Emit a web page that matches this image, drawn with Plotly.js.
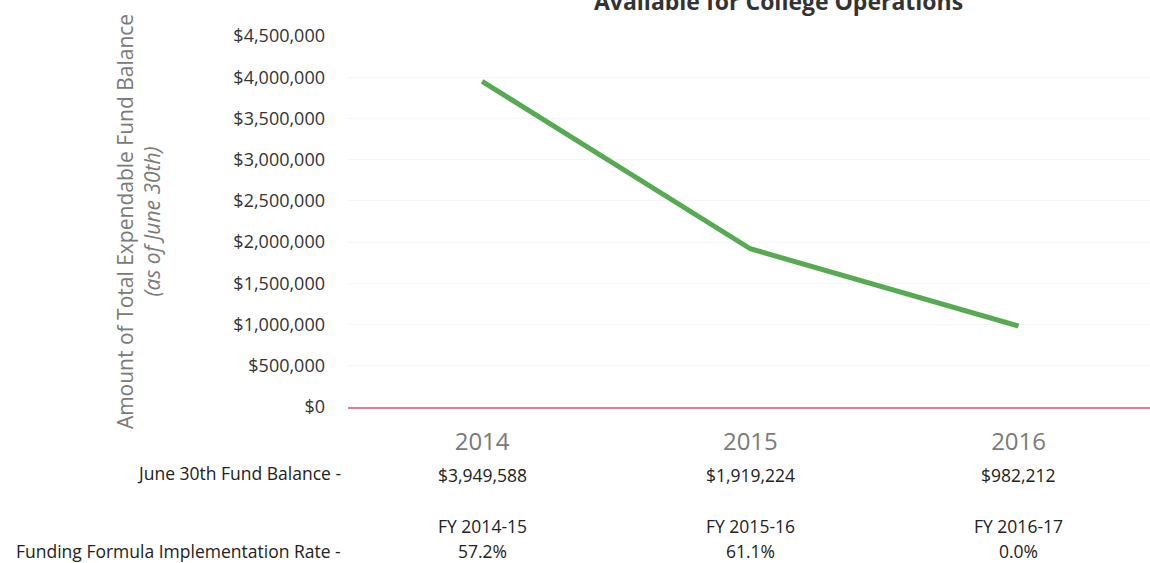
<!DOCTYPE html>
<html>
<head>
<meta charset="utf-8">
<script src="https://cdn.plot.ly/plotly-3.0.1.min.js"></script>
<style>html,body{margin:0;padding:0;background:#fff;}#chart{width:1150px;height:563px;}</style>
</head>
<body>
<div id="chart"></div>
<script>
const years = ["2014", "2015", "2016"];
const balances = [3949588, 1919224, 982212];
const fiscalYears = ["FY 2014-15", "FY 2015-16", "FY 2016-17"];
const implRates = [57.2, 61.1, 0.0];
const yTicks = [0, 500000, 1000000, 1500000, 2000000, 2500000, 3000000, 3500000, 4000000, 4500000];

const fmtMoney = v => "$" + v.toLocaleString("en-US");
const FONT = "Open Sans, Noto Sans, sans-serif";

const trace = {
  x: years,
  y: balances,
  type: "scatter",
  mode: "lines",
  line: {color: "#56aa52", width: 5},
  hoverinfo: "skip"
};

const annotations = [];
annotations.push({
  text: "<b>Available for College Operations</b>",
  xref: "paper", yref: "paper", x: 0.537, y: 1.095,
  xanchor: "center", yanchor: "middle", showarrow: false,
  font: {family: FONT, size: 23, color: "#333"}
});
annotations.push({
  text: "June 30th Fund Balance -",
  xref: "paper", yref: "paper", x: -0.006, y: -0.178,
  xanchor: "right", yanchor: "middle", showarrow: false,
  font: {family: FONT, size: 17.5, color: "#222"}
});
annotations.push({
  text: "Funding Formula Implementation Rate -",
  xref: "paper", yref: "paper", x: -0.006, y: -0.388,
  xanchor: "right", yanchor: "middle", showarrow: false,
  font: {family: FONT, size: 17.5, color: "#222"}
});
years.forEach((yr, i) => {
  annotations.push({
    text: fmtMoney(balances[i]), xref: "x", yref: "paper", x: i, y: -0.183,
    xanchor: "center", yanchor: "middle", showarrow: false,
    font: {family: FONT, size: 17.5, color: "#222"}
  });
  annotations.push({
    text: fiscalYears[i], xref: "x", yref: "paper", x: i, y: -0.321,
    xanchor: "center", yanchor: "middle", showarrow: false,
    font: {family: FONT, size: 17.5, color: "#222"}
  });
  annotations.push({
    text: implRates[i].toFixed(1) + "%", xref: "x", yref: "paper", x: i, y: -0.388,
    xanchor: "center", yanchor: "middle", showarrow: false,
    font: {family: FONT, size: 17.5, color: "#222"}
  });
});

const layout = {
  width: 1150, height: 563,
  margin: {l: 348, r: 0, t: 36, b: 156},
  paper_bgcolor: "#fff", plot_bgcolor: "#fff",
  showlegend: false,
  font: {family: FONT},
  xaxis: {
    type: "category",
    range: [-0.5, 2.49],
    showgrid: false,
    zeroline: false,
    showline: true, linecolor: "#e87890", linewidth: 2,
    ticks: "",
    ticklabelstandoff: 12,
    tickfont: {family: FONT, size: 24, color: "#7a7a7a"}
  },
  yaxis: {
    range: [0, 4500000],
    tickvals: yTicks,
    ticktext: yTicks.map(fmtMoney),
    showgrid: true, gridcolor: "#f6f6f6",
    zeroline: false, showline: false,
    ticks: "",
    ticklabelstandoff: 22,
    tickfont: {family: FONT, size: 18, color: "#333"},
    title: {
      text: "Amount of Total Expendable Fund Balance<br><i>(as of June 30th)</i>",
      font: {family: FONT, size: 21, color: "#7a7a7a"},
      standoff: 66
    }
  },
  annotations: annotations
};

Plotly.newPlot("chart", [trace], layout, {displayModeBar: false, staticPlot: true});
</script>
</body>
</html>
